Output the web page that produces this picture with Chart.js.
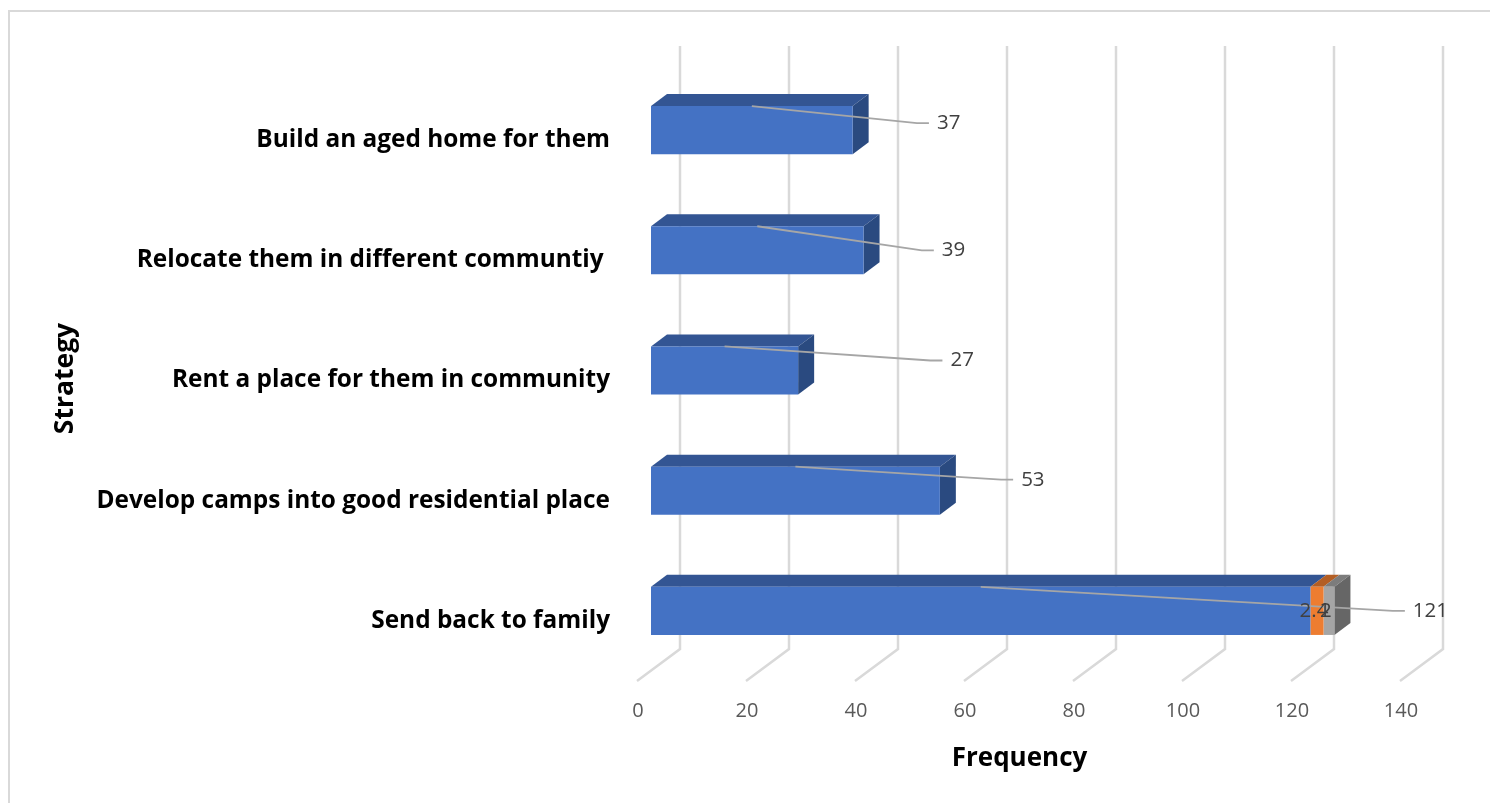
<!DOCTYPE html>
<html>
<head>
<meta charset="utf-8">
<title>Strategy frequency</title>
<script src="https://cdn.jsdelivr.net/npm/chart.js@4/dist/chart.umd.min.js"></script>
<style>
    html, body { margin: 0; padding: 0; background: #fff; overflow: hidden; }
    #frame { position: absolute; left: 8px; top: 10px; width: 1490px; height: 800px; border-top: 2px solid #d9d9d9; border-left: 2px solid #d9d9d9; }
    canvas { position: absolute; left: 0; top: 0; }
</style>
</head>
<body>
<div id="frame"></div>
<canvas id="chart" width="1490" height="803"></canvas>
<script>
const categories = [
    'Build an aged home for them',
    'Relocate them in different communtiy ',
    'Rent a place for them in community',
    'Develop camps into good residential place',
    'Send back to family'
];
const series1 = [37, 39, 27, 53, 121];
const series2 = [null, null, null, null, 2.4];
const series3 = [null, null, null, null, 2];
const xTicks = [0, 20, 40, 60, 80, 100, 120, 140];

// where each label of the first series sits, relative to the bar end and centre
const labelDx = [96, 90, 164, 93, 120];
const labelDy = [-7, 0, -10, -11, 0];

const frontColors = ['#4472C4', '#ED7D31', '#A5A5A5'];
const topColors = ['#335593', '#B35E24', '#7C7C7C'];
const sideColors = ['#2A4A80', '#9C5220', '#666666'];

const depthX = 16, depthY = 12;       // bar depth
const wallX = 29, floorX = -14;       // gridline offsets from the bar plane
const wallTop = 46, wallBottom = 649, floorBottom = 681;

function poly(ctx, pts, color) {
    ctx.fillStyle = color;
    ctx.beginPath();
    pts.forEach((p, i) => i ? ctx.lineTo(p[0], p[1]) : ctx.moveTo(p[0], p[1]));
    ctx.closePath();
    ctx.fill();
}

const wallPlugin = {
    id: 'wall',
    beforeDatasetsDraw(chart) {
        const ctx = chart.ctx;
        const xScale = chart.scales.x;
        ctx.save();
        ctx.strokeStyle = '#d9d9d9';
        ctx.lineWidth = 2.5;
        xTicks.forEach(t => {
            const px = xScale.getPixelForValue(t);
            ctx.beginPath();
            ctx.moveTo(px + wallX, wallTop);
            ctx.lineTo(px + wallX, wallBottom);
            ctx.lineTo(px + floorX, floorBottom);
            ctx.stroke();
        });

        // bar tops and end caps, the front faces come from the library
        chart.data.datasets.forEach((ds, d) => {
            chart.getDatasetMeta(d).data.forEach((bar, i) => {
                if (ds.data[i] == null) return;
                const top = bar.y - bar.height / 2;
                poly(ctx, [[bar.base, top], [bar.x, top], [bar.x + depthX, top - depthY], [bar.base + depthX, top - depthY]], topColors[d]);
                const last = chart.data.datasets.every((o, k) => k <= d || o.data[i] == null);
                if (last) {
                    const bottom = top + bar.height;
                    poly(ctx, [[bar.x, top], [bar.x + depthX, top - depthY], [bar.x + depthX, bottom - depthY], [bar.x, bottom]], sideColors[d]);
                }
            });
        });
        ctx.restore();
    },
    afterDatasetsDraw(chart) {
        const ctx = chart.ctx;
        ctx.save();
        ctx.font = '20.5px "Open Sans"';
        ctx.textBaseline = 'middle';

        // leader lines and labels for the first series
        chart.getDatasetMeta(0).data.forEach((bar, i) => {
            const text = String(series1[i]);
            const cx = bar.x + labelDx[i];
            const cy = bar.y + labelDy[i];
            const endX = cx - ctx.measureText(text).width / 2 - 8;
            ctx.strokeStyle = '#a6a6a6';
            ctx.lineWidth = 1.8;
            ctx.beginPath();
            ctx.moveTo((bar.base + bar.x) / 2, bar.y - bar.height / 2);
            ctx.lineTo(endX - 12, cy);
            ctx.lineTo(endX, cy);
            ctx.stroke();
            ctx.fillStyle = '#404040';
            ctx.textAlign = 'center';
            ctx.fillText(text, cx, cy);
        });

        // small segments have their value on the bar
        [series2, series3].forEach((vals, s) => {
            chart.getDatasetMeta(s + 1).data.forEach((bar, i) => {
                if (vals[i] == null) return;
                ctx.fillStyle = '#404040';
                ctx.textAlign = 'center';
                ctx.fillText(String(vals[i]), (bar.base + bar.x) / 2 - 3, bar.y);
            });
        });
        ctx.restore();
    }
};

// titles are not centred on the plot in the original
function shiftTitle(scale, dx, dy) {
    const draw = scale.drawTitle;
    scale.drawTitle = function () {
        const ctx = this.ctx;
        ctx.save();
        ctx.translate(dx, dy);
        draw.apply(this, arguments);
        ctx.restore();
    };
}

new Chart(document.getElementById('chart'), {
    type: 'bar',
    data: {
        labels: categories,
        datasets: [
            { label: 'Series1', data: series1, backgroundColor: frontColors[0] },
            { label: 'Series2', data: series2, backgroundColor: frontColors[1] },
            { label: 'Series3', data: series3, backgroundColor: frontColors[2] }
        ]
    },
    options: {
        indexAxis: 'y',
        responsive: false,
        animation: false,
        barPercentage: 0.4,
        categoryPercentage: 1,
        layout: { padding: { top: 70, right: 76, left: 0, bottom: 0 } },
        plugins: { legend: { display: false }, tooltip: { enabled: false } },
        scales: {
            x: {
                stacked: true,
                min: 0,
                max: 140,
                afterBuildTicks(scale) { scale.ticks = xTicks.map(v => ({ value: v })); },
                afterFit(scale) { scale.height = 132; },
                afterUpdate(scale) { if (!scale._shifted) { shiftTitle(scale, -13, 0); scale._shifted = true; } },
                grid: { display: false, drawTicks: false },
                border: { display: false },
                ticks: { color: '#595959', font: { family: 'Open Sans', size: 20 }, padding: 28, labelOffset: -13, maxRotation: 0 },
                title: {
                    display: true,
                    text: 'Frequency',
                    color: '#000',
                    font: { family: 'Open Sans', size: 26, weight: 'bold' },
                    padding: { top: 0, bottom: 29 }
                }
            },
            y: {
                stacked: true,
                afterFit(scale) { scale.width = 651; },
                afterUpdate(scale) { if (!scale._shifted) { shiftTitle(scale, 0, 8); scale._shifted = true; } },
                grid: { display: false, drawTicks: false },
                border: { display: false },
                ticks: { color: '#000', font: { family: 'Open Sans', size: 24.4, weight: 'bold' }, padding: 41, labelOffset: 10, autoSkip: false },
                title: {
                    display: true,
                    text: 'Strategy',
                    color: '#000',
                    font: { family: 'Open Sans', size: 26.5, weight: 'bold' },
                    padding: { top: 50, bottom: 0 }
                }
            }
        }
    },
    plugins: [wallPlugin]
});
</script>
</body>
</html>
